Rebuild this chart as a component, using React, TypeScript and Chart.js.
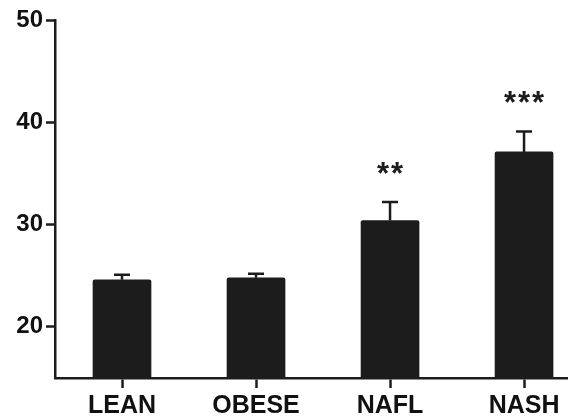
import React, { useEffect, useRef } from "react";
import { Chart, registerables } from "chart.js";

Chart.register(...registerables);

const categories = ["LEAN", "OBESE", "NAFL", "NASH"];
const values = [24.6, 24.8, 30.4, 37.1];
const errors = [0.5, 0.4, 1.8, 2.0];
const significance = ["", "", "**", "***"];
const yTicks = [20, 30, 40, 50];

const INK = "#1c1c1c";
const FONT = "'Liberation Sans', Arial, sans-serif";

const errorBarPlugin = {
  id: "errorBars",
  afterDatasetsDraw(chart: any) {
    const { ctx, scales } = chart;
    const meta = chart.getDatasetMeta(0);
    ctx.save();
    meta.data.forEach((bar: any, i: number) => {
      const x = bar.x;
      const yTop = scales.y.getPixelForValue(values[i] + errors[i]);
      const yBar = scales.y.getPixelForValue(values[i]);
      ctx.strokeStyle = INK;
      ctx.lineWidth = 2.5;
      ctx.beginPath();
      ctx.moveTo(x, yBar);
      ctx.lineTo(x, yTop);
      ctx.moveTo(x - 8, yTop);
      ctx.lineTo(x + 8, yTop);
      ctx.stroke();
      if (significance[i]) {
        ctx.fillStyle = INK;
        ctx.font = `bold 31px ${FONT}`;
        ctx.textAlign = "center";
        ctx.textBaseline = "middle";
        (ctx as any).letterSpacing = "2px";
        ctx.fillText(significance[i], x + 1, yTop - 27);
      }
    });
    ctx.restore();
  },
};

export default function App() {
  const ref = useRef<HTMLCanvasElement | null>(null);

  useEffect(() => {
    document.body.style.margin = "0";
    const canvas = ref.current!;
    const chart = new Chart(canvas, {
      type: "bar",
      data: {
        datasets: [
          {
            data: categories.map((_, i) => ({ x: i, y: values[i] })),
            backgroundColor: INK,
            borderColor: INK,
            borderWidth: 0,
            borderRadius: 2,
            borderSkipped: "bottom",
            barThickness: 58,
          },
        ],
      },
      options: {
        responsive: false,
        animation: false,
        layout: { padding: { top: 20, right: 0, left: 0, bottom: 0 } },
        plugins: {
          legend: { display: false },
          tooltip: { enabled: false },
        },
        scales: {
          x: {
            type: "linear",
            min: -0.5,
            max: 3.328,
            offset: false,
            afterBuildTicks(scale: any) {
              scale.ticks = categories.map((_, i) => ({ value: i }));
            },
            afterFit(scale: any) {
              scale.height = 41;
            },
            ticks: {
              callback: (v: any) => categories[v as number] ?? "",
              color: "#111",
              font: { family: FONT, size: 25, weight: "bold" },
              padding: 3,
              maxRotation: 0,
              autoSkip: false,
            },
            grid: {
              offset: false,
              drawOnChartArea: false,
              drawTicks: true,
              tickLength: 10,
              tickWidth: 2.5,
              tickColor: INK,
            },
            border: { display: true, color: INK, width: 2.5 },
          },
          y: {
            min: 15,
            max: 50,
            afterBuildTicks(scale: any) {
              scale.ticks = yTicks.map((v) => ({ value: v }));
            },
            afterFit(scale: any) {
              scale.width = 55;
            },
            ticks: {
              color: "#111",
              font: { family: FONT, size: 24, weight: "bold" },
              padding: 3,
            },
            grid: {
              drawOnChartArea: false,
              drawTicks: true,
              tickLength: 9,
              tickWidth: 2.5,
              tickColor: INK,
            },
            border: { display: true, color: INK, width: 2.5 },
          },
        },
      },
      plugins: [errorBarPlugin],
    });
    return () => chart.destroy();
  }, []);

  return (
    <div style={{ width: 568, height: 419, overflow: "hidden", background: "#fff" }}>
      <canvas ref={ref} width={568} height={419} />
    </div>
  );
}
